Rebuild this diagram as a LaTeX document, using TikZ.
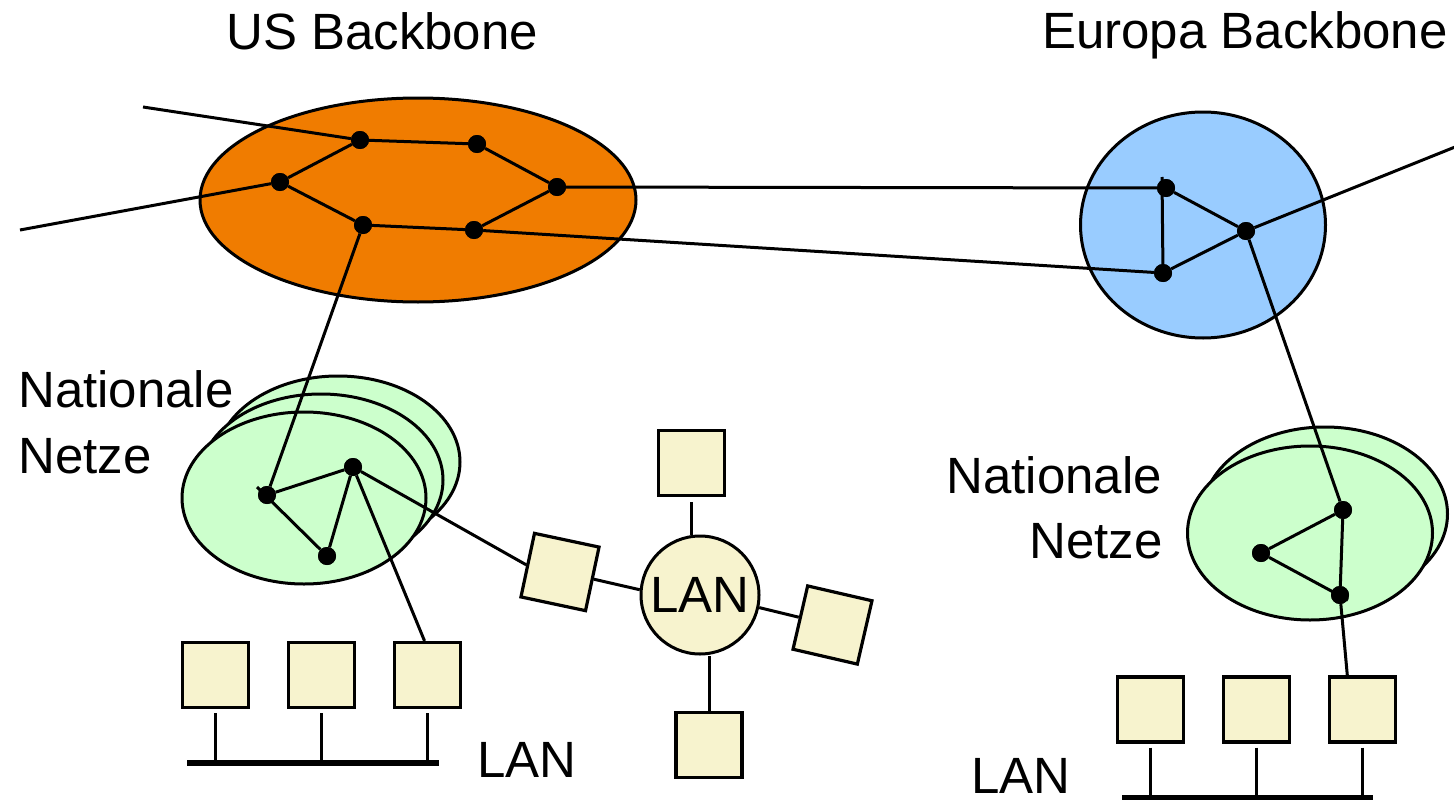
\documentclass[tikz,border=0pt]{standalone}
\usepackage{fontspec}
\setmainfont{Liberation Sans}
\usetikzlibrary{shapes.geometric}
\definecolor{usorange}{RGB}{240,124,0}
\definecolor{eublue}{RGB}{153,204,255}
\definecolor{natgreen}{RGB}{204,255,204}
\definecolor{hostfill}{RGB}{247,243,206}
\begin{document}
\begin{tikzpicture}[x=1pt,y=-1pt,
  link/.style={line width=3pt},
  router/.style={circle,fill=black,inner sep=0pt,minimum size=18pt},
  host/.style={draw,line width=3.2pt,fill=hostfill,inner sep=0pt,
               minimum width=66pt,minimum height=65pt},
  net/.style={ellipse,draw,line width=3pt,inner sep=0pt},
  lbl/.style={font=\fontsize{51}{62}\selectfont,inner sep=0pt},
  bus/.style={line width=5.5pt},
]
\useasboundingbox[fill=white] (0,0) rectangle (1454,800);

% backbone and national network areas
\node[net,fill=usorange,minimum width=436pt,minimum height=204pt] (usnet) at (418,200) {};
\node[net,fill=eublue,minimum width=245pt,minimum height=226pt] (eunet) at (1203,225) {};
\node[net,fill=natgreen,minimum width=244pt,minimum height=172pt] (nl3) at (338,462) {};
\node[net,fill=natgreen,minimum width=244pt,minimum height=172pt] (nl2) at (321,480) {};
\node[net,fill=natgreen,minimum width=244pt,minimum height=172pt] (nl1) at (304,498) {};
\node[net,fill=natgreen,minimum width=245pt,minimum height=174pt] (nr2) at (1325,514) {};
\node[net,fill=natgreen,minimum width=245pt,minimum height=174pt] (nr1) at (1310,533) {};

% titles
\node[lbl,anchor=base west] (ustitle) at (226,50) {US Backbone};
\node[lbl,anchor=base west] (eutitle) at (1042,49) {Europa Backbone};
\node[lbl,anchor=base west] (natl1) at (18,407) {Nationale};
\node[lbl,anchor=base west] (natl2) at (18,473) {Netze};
\node[lbl,anchor=base east] (natr1) at (1162,493) {Nationale};
\node[lbl,anchor=base east] (natr2) at (1163,558) {Netze};
\node[lbl,anchor=base west] (lanl) at (477,777) {LAN};
\node[lbl,anchor=base west] (lanr) at (971,793) {LAN};

% routers
\node[router] (u1) at (360,140) {};
\node[router] (u2) at (477,144) {};
\node[router] (u3) at (557,187) {};
\node[router] (u4) at (474,230) {};
\node[router] (u5) at (363,225) {};
\node[router] (u6) at (280,182) {};
\node[router] (e1) at (1166,188) {};
\node[router] (e2) at (1246,231) {};
\node[router] (e3) at (1163,273) {};
\node[router] (n1) at (267,495) {};
\node[router] (n2) at (353,467) {};
\node[router] (n3) at (327,556) {};
\node[router] (r1) at (1343,510) {};
\node[router] (r2) at (1261,553) {};
\node[router] (r3) at (1340,595) {};

% free line ends
\coordinate (wa) at (143,107);
\coordinate (wb) at (20,230);
\coordinate (ea) at (1460,145);
\coordinate (etick) at (1162,177);
\coordinate (ntick) at (257,487);
\coordinate (rtick) at (1348,600);

% hosts
\node[host] (lb1) at (215.5,675) {};
\node[host] (lb2) at (321.5,675) {};
\node[host] (lb3) at (427.5,675) {};
\node[host] (rb1) at (1150.5,709.5) {};
\node[host] (rb2) at (1256.5,709.5) {};
\node[host] (rb3) at (1362.5,709.5) {};
\node[host] (ht) at (691.5,463) {};
\node[host] (hb) at (709,745) {};
\node[host,rotate=-12] (hl) at (560,572) {};
\node[host,rotate=-13] (hr) at (832.5,625) {};
\node[circle,draw,fill=hostfill,line width=3pt,inner sep=0pt,minimum size=118pt,
      font=\fontsize{51}{62}\selectfont] (lan) at (700,595) {LAN};

% buses
\coordinate (busLa) at (187,763);
\coordinate (busLb) at (439,763);
\coordinate (busRa) at (1122,797.5);
\coordinate (busRb) at (1373,797.5);

\begin{scope}[link]
  % US backbone ring
  \draw (u1) -- (u2) -- (u3) -- (u4) -- (u5) -- (u6) -- (u1);
  \draw (wa) -- (u1);
  \draw (wb) -- (u6);
  % transatlantic links
  \draw (u3) -- (e1);
  \draw (u4) -- (e3);
  % Europe backbone
  \draw (etick) -- (e3);
  \draw (e1) -- (e2) -- (e3);
  \draw (e2) -- (ea);
  % down to national networks
  \draw (u5) -- (n1);
  \draw (e2) -- (r1);
  \draw (n1) -- (n2) -- (n3);
  \draw (ntick) -- (n3);
  \draw (r1) -- (r2);
  \draw (r2) -- (rtick);
  \draw (r1) -- (r3);
  % access links
  \draw (n2) -- (lb3.95);
  \draw (n2) -- (hl.west);
  \draw (r3) -- (rb3.114);
  % ring LAN
  \draw (hl.east) -- (lan.175);
  \draw (lan.-12) -- (hr.west);
  \draw[shorten <=5pt] (ht.south) -- (ht.south |- lan.north);
  \draw (hb.north) -- (hb.north |- lan.south);
  % bus LAN stubs
  \foreach \h in {lb1,lb2,lb3}{\draw[shorten <=4pt] (\h.south) -- (\h.south |- busLa);}
  \foreach \h in {rb1,rb2,rb3}{\draw[shorten <=4pt] (\h.south) -- (\h.south |- busRa);}
\end{scope}
\draw[bus] (busLa) -- (busLb);
\draw[bus] (busRa) -- (busRb);

% routers on top of lines
\foreach \r in {u1,u2,u3,u4,u5,u6,e1,e2,e3,n1,n2,n3,r1,r2,r3}{\fill (\r) circle (9pt);}
\end{tikzpicture}
\end{document}
